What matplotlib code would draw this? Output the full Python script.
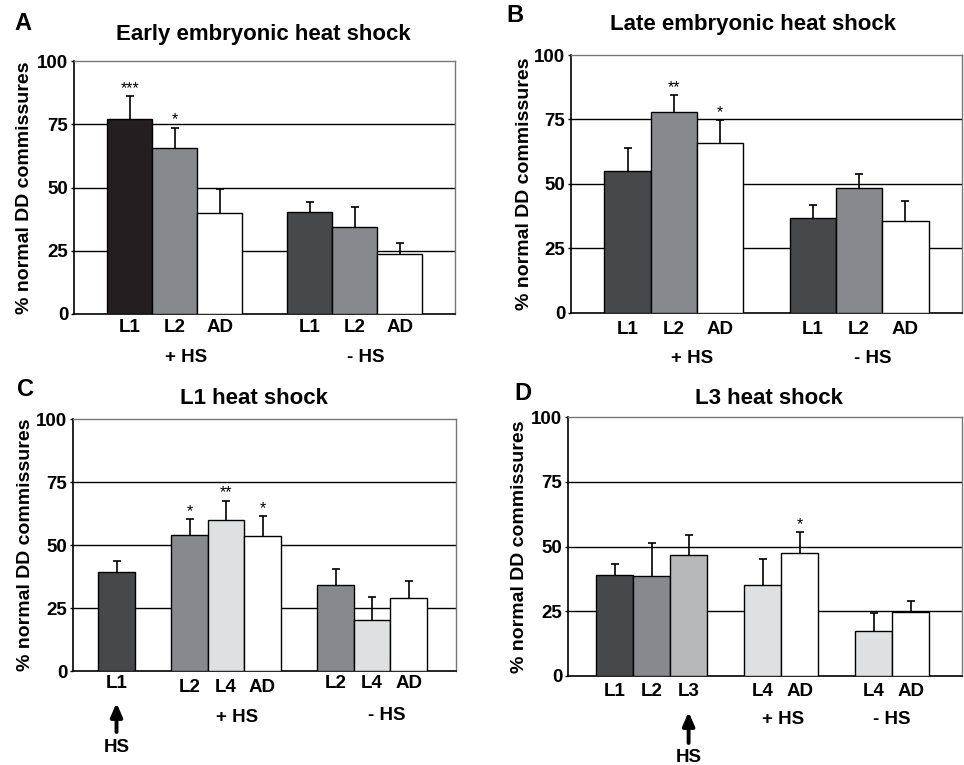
import matplotlib
matplotlib.use("Agg")
import matplotlib.pyplot as plt

plt.rcParams['font.family'] = ['Liberation Sans', 'DejaVu Sans']
plt.rcParams['font.weight'] = 'bold'

# colours used by the stages
BLACK = '#231f20'
DARK = '#47484a'
GRAY = '#88898c'
MID = '#b7b8ba'
LIGHT = '#dfe0e1'
WHITE = '#ffffff'

# Panel A: early embryonic heat shock
a_pos = [0, 1, 2, 4, 5, 6]
a_labels = ['L1', 'L2', 'AD', 'L1', 'L2', 'AD']
a_mean = [77.0, 65.5, 39.8, 40.3, 34.4, 23.7]
a_err = [9.3, 8.2, 9.5, 4.0, 7.9, 4.5]
a_stars = ['***', '*', '', '', '', '']
a_colors = [BLACK, GRAY, WHITE, DARK, GRAY, WHITE]

# Panel B: late embryonic heat shock
b_pos = [0, 1, 2, 4, 5, 6]
b_labels = ['L1', 'L2', 'AD', 'L1', 'L2', 'AD']
b_mean = [55.1, 77.9, 66.0, 36.7, 48.3, 35.7]
b_err = [8.9, 6.5, 8.8, 5.2, 5.4, 7.8]
b_stars = ['', '**', '*', '', '', '']
b_colors = [DARK, GRAY, WHITE, DARK, GRAY, WHITE]

# Panel C: L1 heat shock
c_pos = [0, 2, 3, 4, 6, 7, 8]
c_labels = ['L1', 'L2', 'L4', 'AD', 'L2', 'L4', 'AD']
c_mean = [39.3, 54.2, 60.1, 53.6, 34.2, 20.3, 29.1]
c_err = [4.5, 6.3, 7.6, 8.0, 6.3, 9.2, 6.5]
c_stars = ['', '*', '**', '*', '', '', '']
c_colors = [DARK, GRAY, LIGHT, WHITE, GRAY, LIGHT, WHITE]

# Panel D: L3 heat shock
d_pos = [0, 1, 2, 4, 5, 7, 8]
d_labels = ['L1', 'L2', 'L3', 'L4', 'AD', 'L4', 'AD']
d_mean = [39.2, 38.8, 46.9, 35.2, 47.4, 17.5, 24.6]
d_err = [4.0, 12.7, 7.7, 10.1, 8.3, 6.7, 4.5]
d_stars = ['', '', '', '', '*', '', '']
d_colors = [DARK, GRAY, MID, LIGHT, WHITE, LIGHT, WHITE]

yticks = [0, 25, 50, 75, 100]
PX = 72 / 100  # pixels -> points at dpi 100


def below(ax, x, text, drop, size=13.5):
    # text centred `drop` pixels under the x axis
    ax.annotate(text, (x, 0), xycoords=('data', 'axes fraction'),
                xytext=(0, -drop * PX), textcoords='offset points',
                ha='center', va='center', fontsize=size, fontweight='bold',
                annotation_clip=False)


def panel(ax, pos, labels, mean, err, stars, colors, xlim, title, title_xy,
          letter, letter_xy, groups, label_drop, ylab_x):
    ax.bar(pos, mean, width=1.0, color=colors, edgecolor='black',
           linewidth=1.0, zorder=3)
    eb = ax.errorbar(pos, mean, yerr=[[0] * len(err), err], fmt='none',
                     ecolor='black', elinewidth=1.2, capsize=3.2, capthick=1.2,
                     zorder=2)
    eb[1][0].set_visible(False)  # no cap at the bar top
    for x, m, e, s in zip(pos, mean, err, stars):
        if s:
            ax.annotate(s, (x, m + e), xytext=(0, 0), textcoords='offset points',
                        ha='center', va='bottom', fontsize=11.5, fontweight='normal')
    ax.set_xlim(*xlim)
    ax.set_ylim(0, 100)
    ax.set_yticks(yticks)
    ax.set_yticklabels([str(t) for t in yticks], fontsize=13.5, fontweight='bold')
    ax.set_xticks([])
    for y in (25, 50, 75):
        ax.axhline(y, color='black', linewidth=1.0, zorder=1)
    ax.tick_params(axis='y', length=2.5, width=1.0, pad=1.5)
    for side in ('top', 'right'):
        ax.spines[side].set_color('#777777')
        ax.spines[side].set_linewidth(1.0)
    for side in ('left', 'bottom'):
        ax.spines[side].set_linewidth(1.2)
    ax.set_ylabel('% normal DD commissures', fontsize=14, fontweight='bold')
    ax.yaxis.set_label_coords(ylab_x, 0.5)
    for x, lab, drop in zip(pos, labels, label_drop):
        below(ax, x, lab, drop)
    for gx, gtext, drop in groups:
        below(ax, gx, gtext, drop)
    ax.set_title(title, fontsize=16, fontweight='bold', x=title_xy[0],
                 y=title_xy[1], va='center', pad=0)
    fig.text(letter_xy[0] / 964, 1 - letter_xy[1] / 765, letter,
             fontsize=17, fontweight='bold', ha='center', va='center')


def hs_arrow(ax, x, tip, tail, text_drop):
    tr = ax.get_xaxis_transform()
    h = ax.get_position().height * 765
    ax.annotate('', xy=(x, -tip / h), xytext=(x, -tail / h),
                xycoords=tr, textcoords=tr, annotation_clip=False,
                arrowprops=dict(arrowstyle='-|>,head_length=0.8,head_width=0.35',
                                color='black', lw=2.8, shrinkA=0, shrinkB=0))
    below(ax, x, 'HS', text_drop)


fig = plt.figure(figsize=(9.64, 7.65), dpi=100)

axA = fig.add_axes([74 / 964, 1 - 314 / 765, 381 / 964, 253 / 765])
panel(axA, a_pos, a_labels, a_mean, a_err, a_stars, a_colors, (-1.24, 7.23),
      'Early embryonic heat shock', (0.496, 1.103), 'A', (23, 24),
      [(1.25, '+ HS', 44), (5.25, '- HS', 44)], [14] * 6, -0.107)

axB = fig.add_axes([571 / 964, 1 - 312.7 / 765, 391 / 964, 257.7 / 765])
panel(axB, b_pos, b_labels, b_mean, b_err, b_stars, b_colors, (-1.22, 7.22),
      'Late embryonic heat shock', (0.465, 1.12), 'B', (515, 15),
      [(1.4, '+ HS', 46), (5.3, '- HS', 46)], [17] * 6, -0.097)

axC = fig.add_axes([72.7 / 964, 1 - 671 / 765, 383.3 / 964, 251.7 / 765])
panel(axC, c_pos, c_labels, c_mean, c_err, c_stars, c_colors, (-1.2, 9.3),
      'L1 heat shock', (0.473, 1.081), 'C', (26, 390),
      [(3.3, '+ HS', 47), (7.4, '- HS', 44)], [12, 17, 17, 17, 12, 12, 12], -0.102)

axD = fig.add_axes([568 / 964, 1 - 676 / 765, 394 / 964, 258.7 / 765])
panel(axD, d_pos, d_labels, d_mean, d_err, d_stars, d_colors, (-1.26, 9.39),
      'L3 heat shock', (0.511, 1.074), 'D', (523, 394),
      [(4.55, '+ HS', 44), (7.5, '- HS', 44)], [16] * 7, -0.102)

# arrows marking the heat shock stage
hs_arrow(axC, 0, 32, 61, 77)
hs_arrow(axD, 2, 36, 67, 82)

fig.savefig('out.png', dpi=100)
